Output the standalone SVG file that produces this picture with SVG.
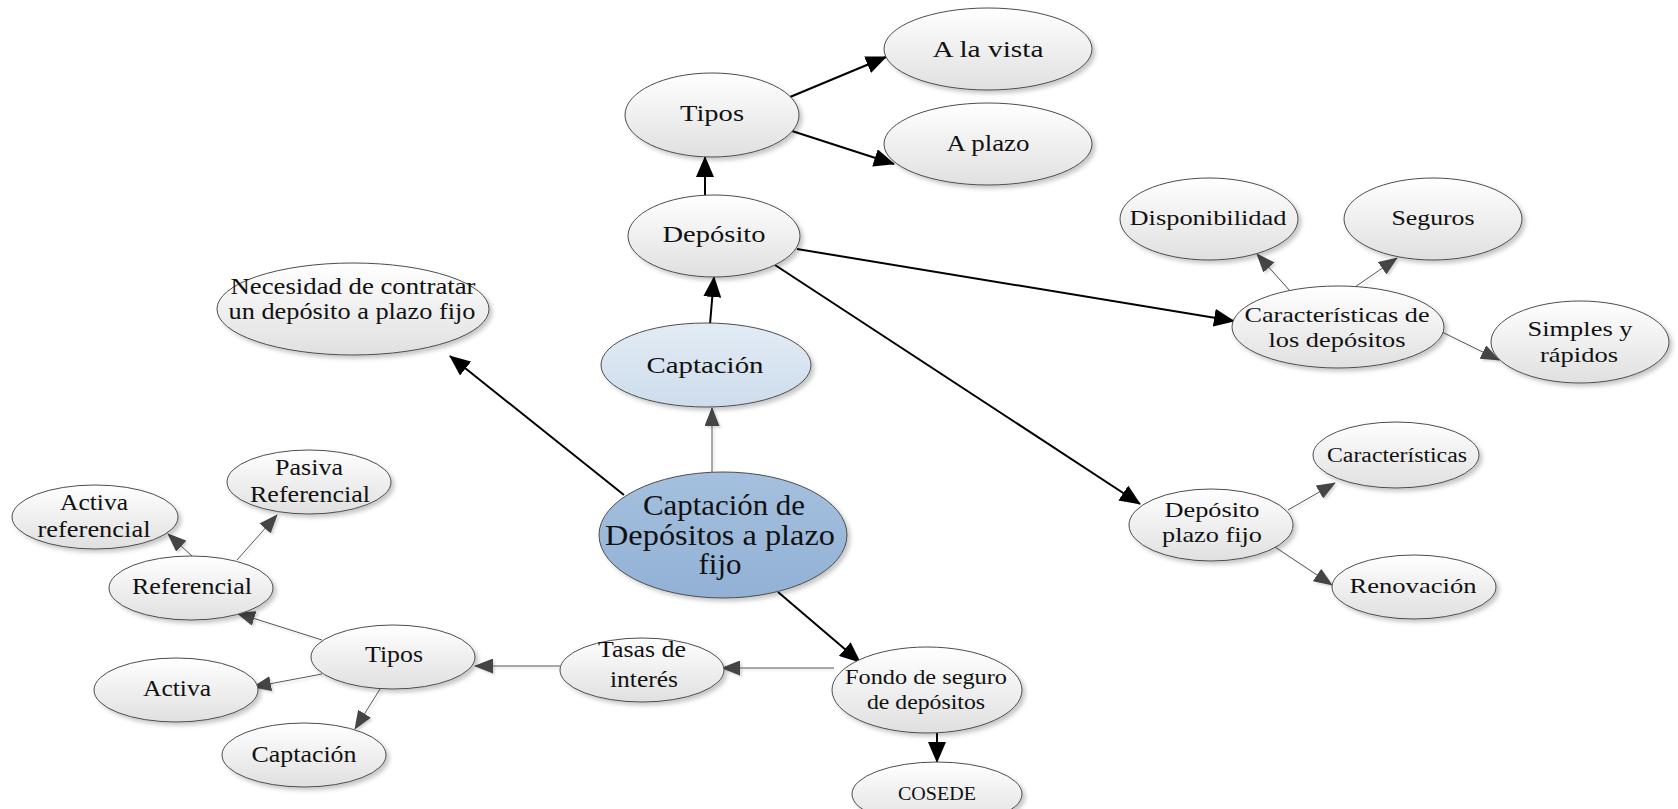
<svg xmlns="http://www.w3.org/2000/svg" width="1678" height="809" viewBox="0 0 1678 809">
  <style>
    .node ellipse { stroke: #4d4d4d; stroke-width: 1; fill: url(#gGray); filter: url(#shadow); }
    .node.light ellipse { fill: url(#gLight); }
    .node.main ellipse { fill: url(#gMain); }
    .node text { font-family: "Liberation Serif", "Times New Roman", serif; fill: #111; text-anchor: middle; }
    .strong { stroke: #000; stroke-width: 2; fill: none; marker-end: url(#arrBlack); }
    .thin { stroke: #555; stroke-width: 1; fill: none; marker-end: url(#arrGray); }
  </style>
  <defs>
    <linearGradient id="gGray" x1="0" y1="0" x2="0" y2="1">
      <stop offset="0" stop-color="#ffffff"/>
      <stop offset="1" stop-color="#e0e0e0"/>
    </linearGradient>
    <linearGradient id="gLight" x1="0" y1="0" x2="0" y2="1">
      <stop offset="0" stop-color="#e3ecf5"/>
      <stop offset="1" stop-color="#cddcec"/>
    </linearGradient>
    <linearGradient id="gMain" x1="0" y1="0" x2="0" y2="1">
      <stop offset="0" stop-color="#a5c0de"/>
      <stop offset="1" stop-color="#92b1d5"/>
    </linearGradient>
    <filter id="shadow" x="-10%" y="-10%" width="125%" height="130%">
      <feDropShadow dx="3" dy="3" stdDeviation="2" flood-color="#000" flood-opacity="0.22"/>
    </filter>
    <filter id="lineShadow" filterUnits="userSpaceOnUse" x="0" y="0" width="1678" height="809">
      <feDropShadow dx="2" dy="2" stdDeviation="1" flood-color="#000" flood-opacity="0.15"/>
    </filter>
    <marker id="arrBlack" markerUnits="userSpaceOnUse" markerWidth="22" markerHeight="18" refX="20" refY="9" orient="auto">
      <path d="M0,0 L21,9 L0,18 Z" fill="#000"/>
    </marker>
    <marker id="arrGray" markerUnits="userSpaceOnUse" markerWidth="19" markerHeight="15" refX="18" refY="7.5" orient="auto">
      <path d="M0,0 L19,7.5 L0,15 Z" fill="#444"/>
    </marker>
  </defs>

  <!-- connectors -->
  <g id="connectors">
    <line class="strong" x1="624" y1="495" x2="450" y2="356"/>
    <line class="strong" x1="778" y1="592" x2="860" y2="662"/>
    <line class="strong" x1="710" y1="324" x2="714" y2="277"/>
    <line class="strong" x1="705" y1="196" x2="705" y2="157"/>
    <line class="strong" x1="790" y1="97" x2="886" y2="57"/>
    <line class="strong" x1="792" y1="131" x2="894" y2="164"/>
    <line class="strong" x1="797" y1="249" x2="1234" y2="321"/>
    <line class="strong" x1="775" y1="265" x2="1140" y2="504"/>
    <line class="strong" x1="937" y1="733" x2="937" y2="762"/>

    <g filter="url(#lineShadow)">
      <line class="thin" x1="712" y1="472" x2="712" y2="408"/>
      <line class="thin" x1="834" y1="668" x2="722" y2="668"/>
      <line class="thin" x1="560" y1="666" x2="475" y2="666"/>
      <line class="thin" x1="322" y1="640" x2="237" y2="613"/>
      <line class="thin" x1="322" y1="674" x2="253" y2="687"/>
      <line class="thin" x1="380" y1="689" x2="355" y2="729"/>
      <line class="thin" x1="192" y1="556" x2="168" y2="534"/>
      <line class="thin" x1="237" y1="560" x2="277" y2="515"/>
      <line class="thin" x1="1290" y1="291" x2="1257" y2="254"/>
      <line class="thin" x1="1355" y1="287" x2="1397" y2="258"/>
      <line class="thin" x1="1442" y1="332" x2="1499" y2="360"/>
      <line class="thin" x1="1288" y1="510" x2="1335" y2="483"/>
      <line class="thin" x1="1275" y1="547" x2="1332" y2="585"/>
    </g>
  </g>

  <!-- top branch -->
  <g id="n-alavista" class="node">
    <ellipse cx="988" cy="49" rx="104" ry="41"/>
    <text x="988" y="57" font-size="24" textLength="111" lengthAdjust="spacingAndGlyphs">A la vista</text>
  </g>
  <g id="n-aplazo" class="node">
    <ellipse cx="988" cy="144" rx="104" ry="41"/>
    <text x="988" y="151" font-size="23" textLength="83" lengthAdjust="spacingAndGlyphs">A plazo</text>
  </g>
  <g id="n-tipos-top" class="node">
    <ellipse cx="712" cy="115" rx="87" ry="42"/>
    <text x="712" y="121" font-size="24" textLength="64" lengthAdjust="spacingAndGlyphs">Tipos</text>
  </g>
  <g id="n-deposito" class="node">
    <ellipse cx="714" cy="236" rx="86" ry="41"/>
    <text x="714" y="242" font-size="24" textLength="103" lengthAdjust="spacingAndGlyphs">Depósito</text>
  </g>
  <g id="n-necesidad" class="node">
    <ellipse cx="353" cy="309" rx="136" ry="46"/>
    <text x="353" y="294" font-size="23" textLength="245" lengthAdjust="spacingAndGlyphs">Necesidad de contratar</text>
    <text x="352" y="319" font-size="23" textLength="247" lengthAdjust="spacingAndGlyphs">un depósito a plazo fijo</text>
  </g>
  <g id="n-captacion" class="node light">
    <ellipse cx="706" cy="365" rx="105" ry="42"/>
    <text x="705" y="373" font-size="24" textLength="117" lengthAdjust="spacingAndGlyphs">Captación</text>
  </g>
  <g id="n-main" class="node main">
    <ellipse cx="723" cy="535" rx="124" ry="63"/>
    <text x="724" y="515" font-size="29" textLength="162" lengthAdjust="spacingAndGlyphs">Captación de</text>
    <text x="720" y="545" font-size="29" textLength="230" lengthAdjust="spacingAndGlyphs">Depósitos a plazo</text>
    <text x="720" y="574" font-size="29" textLength="43" lengthAdjust="spacingAndGlyphs">fijo</text>
  </g>

  <!-- right branch -->
  <g id="n-disponibilidad" class="node">
    <ellipse cx="1209" cy="219" rx="89" ry="41"/>
    <text x="1208" y="225" font-size="22" textLength="157" lengthAdjust="spacingAndGlyphs">Disponibilidad</text>
  </g>
  <g id="n-seguros" class="node">
    <ellipse cx="1433" cy="219" rx="89" ry="41"/>
    <text x="1433" y="225" font-size="22" textLength="83" lengthAdjust="spacingAndGlyphs">Seguros</text>
  </g>
  <g id="n-caracteristicas-dep" class="node">
    <ellipse cx="1338" cy="327" rx="106" ry="41"/>
    <text x="1337" y="322" font-size="22" textLength="185" lengthAdjust="spacingAndGlyphs">Características de</text>
    <text x="1337" y="347" font-size="22" textLength="137" lengthAdjust="spacingAndGlyphs">los depósitos</text>
  </g>
  <g id="n-simples" class="node">
    <ellipse cx="1580" cy="342" rx="89" ry="41"/>
    <text x="1580" y="336" font-size="22" textLength="105" lengthAdjust="spacingAndGlyphs">Simples y</text>
    <text x="1579" y="362" font-size="22" textLength="78" lengthAdjust="spacingAndGlyphs">rápidos</text>
  </g>
  <g id="n-caracteristicas" class="node">
    <ellipse cx="1396" cy="455" rx="83" ry="33"/>
    <text x="1397" y="462" font-size="20" textLength="140" lengthAdjust="spacingAndGlyphs">Características</text>
  </g>
  <g id="n-plazofijo" class="node">
    <ellipse cx="1211" cy="525" rx="82" ry="36"/>
    <text x="1212" y="517" font-size="22" textLength="95" lengthAdjust="spacingAndGlyphs">Depósito</text>
    <text x="1212" y="542" font-size="22" textLength="100" lengthAdjust="spacingAndGlyphs">plazo fijo</text>
  </g>
  <g id="n-renovacion" class="node">
    <ellipse cx="1414" cy="587" rx="82" ry="32"/>
    <text x="1413" y="593" font-size="22" textLength="127" lengthAdjust="spacingAndGlyphs">Renovación</text>
  </g>

  <!-- bottom branch -->
  <g id="n-fondo" class="node">
    <ellipse cx="927" cy="690" rx="95" ry="43"/>
    <text x="926" y="684" font-size="21" textLength="162" lengthAdjust="spacingAndGlyphs">Fondo de seguro</text>
    <text x="926" y="709" font-size="21" textLength="118" lengthAdjust="spacingAndGlyphs">de depósitos</text>
  </g>
  <g id="n-cosede" class="node">
    <ellipse cx="937" cy="794" rx="85" ry="32"/>
    <text x="937" y="800" font-size="19" textLength="78" lengthAdjust="spacingAndGlyphs">COSEDE</text>
  </g>
  <g id="n-tasas" class="node">
    <ellipse cx="642" cy="670" rx="82" ry="32"/>
    <text x="642" y="657" font-size="23" textLength="88" lengthAdjust="spacingAndGlyphs">Tasas de</text>
    <text x="644" y="687" font-size="23" textLength="68" lengthAdjust="spacingAndGlyphs">interés</text>
  </g>

  <!-- left branch -->
  <g id="n-tipos-left" class="node">
    <ellipse cx="393" cy="657" rx="82" ry="32"/>
    <text x="394" y="662" font-size="23" textLength="58" lengthAdjust="spacingAndGlyphs">Tipos</text>
  </g>
  <g id="n-referencial" class="node">
    <ellipse cx="191" cy="588" rx="82" ry="32"/>
    <text x="192" y="594" font-size="23" textLength="120" lengthAdjust="spacingAndGlyphs">Referencial</text>
  </g>
  <g id="n-activa-ref" class="node">
    <ellipse cx="95" cy="517" rx="83" ry="32"/>
    <text x="94" y="510" font-size="23" textLength="68" lengthAdjust="spacingAndGlyphs">Activa</text>
    <text x="94" y="537" font-size="23" textLength="113" lengthAdjust="spacingAndGlyphs">referencial</text>
  </g>
  <g id="n-pasiva-ref" class="node">
    <ellipse cx="309" cy="482" rx="82" ry="32"/>
    <text x="309" y="475" font-size="23" textLength="68" lengthAdjust="spacingAndGlyphs">Pasiva</text>
    <text x="310" y="502" font-size="23" textLength="120" lengthAdjust="spacingAndGlyphs">Referencial</text>
  </g>
  <g id="n-activa" class="node">
    <ellipse cx="176" cy="690" rx="82" ry="32"/>
    <text x="177" y="696" font-size="23" textLength="68" lengthAdjust="spacingAndGlyphs">Activa</text>
  </g>
  <g id="n-captacion-tipo" class="node">
    <ellipse cx="304" cy="755" rx="82" ry="32"/>
    <text x="304" y="762" font-size="23" textLength="105" lengthAdjust="spacingAndGlyphs">Captación</text>
  </g>
</svg>
